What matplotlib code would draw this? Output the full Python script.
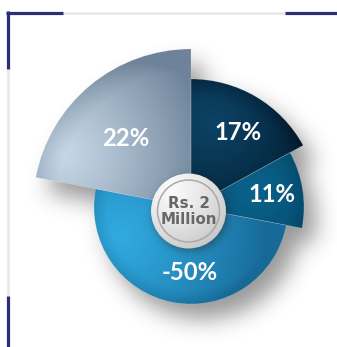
import numpy as np
import matplotlib
matplotlib.use("Agg")
import matplotlib.pyplot as plt
from matplotlib.patches import Wedge, Circle
from matplotlib.colors import to_rgb

# ---- data -------------------------------------------------------------
labels = ["17%", "11%", "-50%", "22%"]
values = [17, 11, -50, 22]
center_text = "Rs. 2\nMillion"

# ---- canvas (pixel coordinates, y up) ----------------------------------
W, H = 337, 347
fig = plt.figure(figsize=(W / 100, H / 100), dpi=100)
ax = fig.add_axes([0, 0, 1, 1])
ax.set_xlim(0, W)
ax.set_ylim(0, H)
ax.axis("off")

cx, cy = 191, H - 207
radii = [128, 113, 97, 158]
light = ["#0c4263", "#0a628b", "#30aadf", "#c6d7e6"]
dark = ["#01172a", "#044666", "#176a98", "#6e8399"]
hilite = [(212, 122), (252, 190), (118, 236), (62, 154)]   # y measured from top
spread = [118, 85, 150, 145]
label_r = [88, 82, 66, 95]
label_shift = [-2, 0, 9.5, 4]

xs = np.arange(W) + 0.5
ys = H - (np.arange(H) + 0.5)
X, Y = np.meshgrid(xs, ys)


def gauss_blur(arr, sigma):
    n = int(3 * sigma)
    k = np.exp(-0.5 * (np.arange(-n, n + 1) / sigma) ** 2)
    k /= k.sum()
    out = np.apply_along_axis(lambda m: np.convolve(m, k, mode="same"), 0, arr)
    out = np.apply_along_axis(lambda m: np.convolve(m, k, mode="same"), 1, out)
    return out


# slice angles, clockwise from 12 o'clock
sizes = np.abs(values)
total = sizes.sum()
spans = []
start = 90.0
for s in sizes:
    end = start - s / total * 360.0
    spans.append((end, start))
    start = end


def shape_mask(ox, oy):
    ang = np.degrees(np.arctan2(Y - (cy + oy), X - (cx + ox)))
    rr = np.hypot(X - (cx + ox), Y - (cy + oy))
    m = np.zeros_like(X)
    for (a1, a2), R in zip(spans, radii):
        inside = ((ang - a1) % 360) < (a2 - a1)
        m[inside & (rr < R)] = 1.0
    return m


# soft drop shadow under the pie
sh = gauss_blur(shape_mask(12, -15), 11)
shadow = np.zeros((H, W, 4))
shadow[..., :3] = 0.2
shadow[..., 3] = np.clip(sh * 0.5, 0, 1)
ax.imshow(shadow, extent=(0, W, 0, H), origin="upper", zorder=1,
          interpolation="bilinear")

# slices with shaded fills
rr_all = np.hypot(X - cx, Y - cy)
for i, ((a1, a2), R) in enumerate(zip(spans, radii)):
    wedge = Wedge((cx, cy), R, a1, a2, facecolor="none", edgecolor="none",
                  zorder=3)
    ax.add_patch(wedge)
    hx, hy = hilite[i]
    d = np.hypot(X - hx, Y - (H - hy)) / spread[i]
    t = np.clip(d, 0, 1) ** 1.2
    rim = np.clip((rr_all / R - 0.86) / 0.14, 0, 1) * 0.25
    t = np.clip(t + rim, 0, 1)[..., None]
    img = np.array(to_rgb(light[i])) * (1 - t) + np.array(to_rgb(dark[i])) * t
    im = ax.imshow(img, extent=(0, W, 0, H), origin="upper", zorder=2,
                   interpolation="bilinear")
    im.set_clip_path(wedge)
    ax.add_patch(Wedge((cx, cy), R, a1, a2, facecolor="none",
                       edgecolor=(1, 1, 1, 0.25), linewidth=0.4, zorder=4))

# slice labels
for i, lab in enumerate(labels):
    a1, a2 = spans[i]
    mid = np.radians((a1 + a2) / 2 + label_shift[i])
    ax.text(cx + label_r[i] * np.cos(mid), cy + label_r[i] * np.sin(mid), lab,
            color="white", fontsize=17.2, fontweight="bold", family="Lato",
            ha="center", va="center", zorder=6)

# centre badge
bx, by, br = 188.5, H - 211, 37.5
bm = (np.hypot(X - bx - 2, Y - by + 3) < br).astype(float)
bsh = gauss_blur(bm, 4)
bshadow = np.zeros((H, W, 4))
bshadow[..., :3] = 0.15
bshadow[..., 3] = np.clip(bsh * 0.45, 0, 1)
ax.imshow(bshadow, extent=(0, W, 0, H), origin="upper", zorder=6.5,
          interpolation="bilinear")
disc = Circle((bx, by), br, facecolor="none", edgecolor="none", zorder=7)
ax.add_patch(disc)
d = np.clip(np.hypot(X - 172, Y - (H - 190)) / 70, 0, 1)[..., None] ** 1.3
dimg = np.array(to_rgb("#fafafa")) * (1 - d) + np.array(to_rgb("#c2c2c2")) * d
dim = ax.imshow(dimg, extent=(0, W, 0, H), origin="upper", zorder=7,
                interpolation="bilinear")
dim.set_clip_path(disc)
ax.add_patch(Circle((bx, by), 31, facecolor="none", edgecolor="#a9a9a9",
                    linewidth=1.1, zorder=8))
ax.text(bx, by - 0.5, center_text, color="#676767", fontsize=10.8,
        fontweight="bold", family="DejaVu Sans", ha="center", va="center",
        linespacing=1.02, zorder=9)

# frame corners
navy, pale = "#2c2e78", "#e8e8e8"
fy = H - 12.5
fx = 7.7
ax.plot([62.5, 284.5], [fy, fy], color=pale, lw=1.9, solid_capstyle="butt", zorder=0)
ax.plot([fx, fx], [H - 69, H - 296], color=pale, lw=1.9, solid_capstyle="butt", zorder=0)
ax.plot([6, 62.5], [fy, fy], color=navy, lw=2.3, solid_capstyle="butt", zorder=0)
ax.plot([fx, fx], [H - 11, H - 69], color=navy, lw=2.3, solid_capstyle="butt", zorder=0)
ax.plot([284.5, W], [fy, fy], color=navy, lw=2.3, solid_capstyle="butt", zorder=0)
ax.plot([fx, fx], [H - 296, 0], color=navy, lw=2.3, solid_capstyle="butt", zorder=0)

fig.savefig("out.png", dpi=100)
